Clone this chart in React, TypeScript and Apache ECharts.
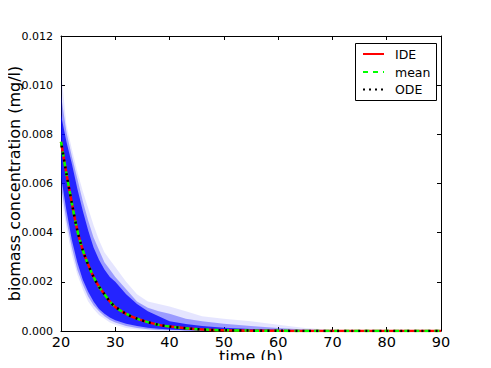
import React, { useEffect, useRef } from "react";
import * as echarts from "echarts";

// time points (h)
const times = [20, 21, 22, 23, 24, 25, 26, 27, 28, 29, 30, 32, 34, 36, 38, 40, 43, 46, 50, 55, 60, 65, 70, 80, 90];

// IDE / mean / ODE curves (mg/l) — they overlap in the reference
const ideValues = [0.0077, 0.0064, 0.0052, 0.0041, 0.0033, 0.0027, 0.0022, 0.0018, 0.0015, 0.0012, 0.00098, 0.0007, 0.0005, 0.00036, 0.00025, 0.00018, 0.00011, 0.00006, 0.00003, 0.000015, 0.000007, 0.000003, 0.000002, 0.000001, 0];
const meanValues = [0.0077, 0.0064, 0.0052, 0.0041, 0.0033, 0.0027, 0.0022, 0.0018, 0.0015, 0.0012, 0.00098, 0.0007, 0.0005, 0.00036, 0.00025, 0.00018, 0.00011, 0.00006, 0.00003, 0.000015, 0.000007, 0.000003, 0.000002, 0.000001, 0];
const odeValues = [0.0077, 0.0064, 0.0052, 0.0041, 0.0033, 0.0027, 0.0022, 0.0018, 0.0015, 0.0012, 0.00098, 0.0007, 0.0005, 0.00036, 0.00025, 0.00018, 0.00011, 0.00006, 0.00003, 0.000015, 0.000007, 0.000003, 0.000002, 0.000001, 0];

// ensemble envelopes (blue trajectories)
const ensMax = [0.0106, 0.0084, 0.0074, 0.0065, 0.0057, 0.005, 0.0043, 0.0037, 0.0032, 0.0029, 0.0026, 0.002, 0.0015, 0.0012, 0.0011, 0.001, 0.0008, 0.0006, 0.0005, 0.0004, 0.00025, 0.00012, 0.00005, 0.00001, 0];
const ensMin = [0.0055, 0.0042, 0.0031, 0.0023, 0.0017, 0.0012, 0.0009, 0.00065, 0.0005, 0.00035, 0.00025, 0.00012, 0.00006, 0.00003, 0.00001, 0.00001, 0, 0, 0, 0, 0, 0, 0, 0, 0];
const ensMidUpper = [0.0096, 0.0081, 0.0071, 0.0062, 0.0053, 0.0045, 0.0038, 0.0033, 0.0028, 0.0025, 0.0022, 0.0017, 0.0012, 0.00095, 0.0008, 0.0007, 0.0005, 0.0004, 0.0003, 0.0002, 0.00012, 0.00006, 0.00003, 0.000005, 0];
const ensMidLower = [0.0059, 0.0045, 0.0034, 0.0025, 0.0019, 0.0014, 0.00105, 0.0008, 0.0006, 0.00045, 0.00035, 0.0002, 0.00012, 0.00007, 0.00004, 0.00003, 0.00002, 0.00001, 0, 0, 0, 0, 0, 0, 0];
const ensCoreUpper = [0.0088, 0.0077, 0.0068, 0.0058, 0.0049, 0.0041, 0.0034, 0.0029, 0.0025, 0.0022, 0.002, 0.0015, 0.0011, 0.0008, 0.0006, 0.0004, 0.00028, 0.0002, 0.00013, 0.00008, 0.00005, 0.00003, 0.00002, 0.00001, 0];
const ensCoreLower = [0.0063, 0.0049, 0.0037, 0.0028, 0.0021, 0.0016, 0.0012, 0.0009, 0.0007, 0.00055, 0.00044, 0.0003, 0.0002, 0.00013, 0.00009, 0.00006, 0.00003, 0.00002, 0.00001, 0, 0, 0, 0, 0, 0];

const legendNames = ["IDE", "mean", "ODE"];

const FONT = "DejaVu Sans";

function pairs(vals: number[]) {
  return times.map((t, i) => [t, vals[i]]);
}

const bands = [
  { lower: ensMin, upper: ensMax, color: "rgba(0,0,255,0.10)" },
  { lower: ensMidLower, upper: ensMidUpper, color: "rgba(0,0,255,0.32)" },
  { lower: ensCoreLower, upper: ensCoreUpper, color: "rgba(0,0,255,0.77)" },
];

export default function App() {
  const ref = useRef<HTMLDivElement>(null);
  useEffect(() => {
    if (!ref.current) return;
    const chart = echarts.init(ref.current, undefined, { renderer: "svg" });
    const xCommon = {
      type: "value",
      min: 20,
      max: 90,
      interval: 10,
      splitLine: { show: false },
      axisLine: { show: true, onZero: false, lineStyle: { color: "#000", width: 1 } },
      axisTick: { show: true, inside: true, length: 4, lineStyle: { color: "#000" } },
    };
    const yCommon = {
      type: "value",
      min: 0,
      max: 0.012,
      interval: 0.002,
      splitLine: { show: false },
      axisLine: { show: true, onZero: false, lineStyle: { color: "#000", width: 1 } },
      axisTick: { show: true, inside: true, length: 4, lineStyle: { color: "#000" } },
    };

    const lineStyles = [
      { color: "#ff0000", width: 2.5, type: "solid" as any },
      { color: "#00ff00", width: 2.5, type: [5, 5] as any },
      { color: "#000000", width: 2.5, type: [2, 5] as any, dashOffset: 3 },
    ];

    const legendTop = 43;
    const legendRowY = [54, 72, 89.5];
    const legendGraphics: any[] = [
      {
        type: "rect",
        shape: { x: 355.5, y: legendTop + 0.5, width: 81, height: 57 },
        style: { fill: "#fff", stroke: "#000", lineWidth: 1 },
        z: 100,
      },
    ];
    legendNames.forEach((n, i) => {
      const ls = lineStyles[i];
      legendGraphics.push({
        type: "line",
        shape: { x1: 363, y1: legendRowY[i], x2: 384, y2: legendRowY[i] },
        style: {
          stroke: ls.color,
          lineWidth: 2,
          lineDash: i === 0 ? null : i === 1 ? [5, 5] : [2, 4],
        },
        z: 101,
      });
      legendGraphics.push({
        type: "text",
        x: 395,
        y: legendRowY[i],
        style: {
          text: n,
          fill: "#000",
          font: `12.5px "${FONT}"`,
          verticalAlign: "middle",
          align: "left",
        },
        z: 101,
      });
    });

    chart.setOption({
      animation: false,
      backgroundColor: "#fff",
      textStyle: { fontFamily: FONT },
      grid: { left: 61, right: 50, top: 36, bottom: 37, containLabel: false, outerBoundsMode: "none" },
      xAxis: [
        {
          ...xCommon,
          position: "bottom",
          name: "time (h)",
          nameLocation: "middle",
          nameGap: 17,
          nameMoveOverlap: false,
          nameTextStyle: { fontFamily: FONT, fontSize: 16, lineHeight: 16, color: "#000", verticalAlign: "top" },
          axisLabel: { color: "#000", fontFamily: FONT, fontSize: 14.5, lineHeight: 12, margin: 5 },
        },
        { ...xCommon, position: "top", axisLabel: { show: false } },
      ],
      yAxis: [
        {
          ...yCommon,
          position: "left",
          name: "biomass concentration (mg/l)",
          nameLocation: "middle",
          nameGap: 39,
          nameMoveOverlap: false,
          nameTextStyle: { fontFamily: FONT, fontSize: 16, lineHeight: 16, color: "#000" },
          axisLabel: {
            color: "#000",
            fontFamily: FONT,
            fontSize: 11,
            margin: 8,
            formatter: (v: number) => v.toFixed(3),
          },
        },
        { ...yCommon, position: "right", axisLabel: { show: false } },
      ],
      graphic: legendGraphics,
      series: [
        {
          name: "ensemble",
          type: "custom",
          data: bands.map((_, i) => i),
          silent: true,
          z: 1,
          renderItem: (params: any, api: any) => {
            const b = bands[params.dataIndex];
            const top = times.map((t, i) => api.coord([t, b.upper[i]]));
            const bottom = times.map((t, i) => api.coord([t, b.lower[i]])).reverse();
            return {
              type: "polygon",
              shape: { points: top.concat(bottom) },
              style: { fill: b.color, stroke: null },
            };
          },
        },
        {
          name: legendNames[0],
          type: "line",
          data: pairs(ideValues),
          symbol: "none",
          smooth: 0.3,
          lineStyle: lineStyles[0],
          z: 3,
        },
        {
          name: legendNames[1],
          type: "line",
          data: pairs(meanValues),
          symbol: "none",
          smooth: 0.3,
          lineStyle: lineStyles[1],
          z: 4,
        },
        {
          name: legendNames[2],
          type: "line",
          data: pairs(odeValues),
          symbol: "none",
          smooth: 0.3,
          lineStyle: lineStyles[2],
          z: 5,
        },
      ],
    });
    return () => chart.dispose();
  }, []);
  return <div ref={ref} style={{ width: 491, height: 368, margin: -8 }} />;
}
